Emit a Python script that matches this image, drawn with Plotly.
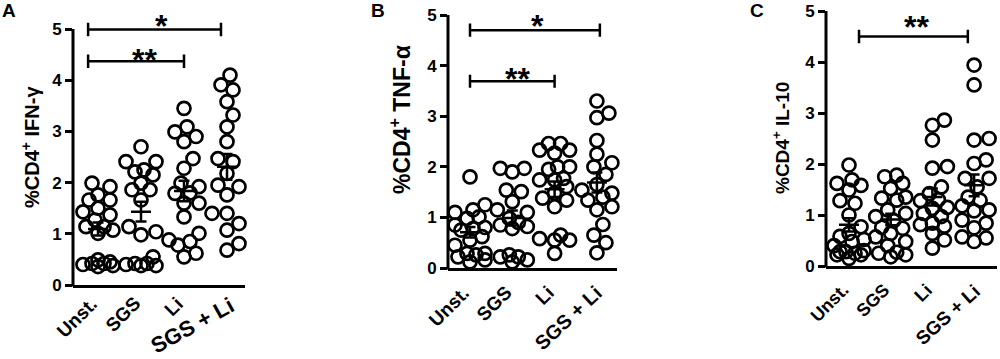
import math
import plotly.graph_objects as go

# ---------------- data ----------------
categories = ["Unst.", "SGS", "Li", "SGS + Li"]
y_ticks = [0, 1, 2, 3, 4, 5]

A_unst = [1.99, 1.92, 1.76, 1.66, 1.66, 1.50, 1.43, 1.37, 1.27, 1.14, 1.14, 1.07, 1.01, 0.49, 0.45, 0.42, 0.42, 0.40, 0.38, 0.36]
A_sgs = [2.70, 2.41, 2.41, 2.25, 2.21, 2.15, 1.99, 1.86, 1.86, 1.66, 1.14, 1.04, 0.98, 0.55, 0.42, 0.42, 0.40, 0.38, 0.38]
A_li = [3.45, 3.09, 2.99, 2.90, 2.80, 2.47, 2.28, 1.99, 1.92, 1.80, 1.79, 1.60, 1.60, 1.33, 1.01, 0.88, 0.85, 0.78, 0.62, 0.55]
A_sgsli = [4.10, 3.91, 3.81, 3.58, 3.32, 3.09, 2.80, 2.47, 2.41, 2.18, 1.95, 1.92, 1.76, 1.40, 1.40, 1.20, 1.07, 0.81, 0.68]

B_unst = [1.80, 1.25, 1.15, 1.10, 1.01, 0.98, 0.85, 0.80, 0.78, 0.75, 0.62, 0.55, 0.45, 0.29, 0.29, 0.26, 0.22, 0.16, 0.12]
B_sgs = [1.97, 1.97, 1.90, 1.54, 1.51, 1.31, 1.15, 1.10, 0.98, 0.90, 0.85, 0.82, 0.78, 0.26, 0.22, 0.22, 0.16, 0.12]
B_li = [2.46, 2.46, 2.33, 2.33, 2.27, 2.00, 2.00, 1.95, 1.77, 1.74, 1.74, 1.61, 1.48, 1.38, 1.34, 1.21, 0.65, 0.58, 0.55, 0.55, 0.29]
B_sgsli = [3.30, 3.06, 2.97, 2.52, 2.25, 2.08, 2.00, 1.85, 1.65, 1.54, 1.48, 1.40, 1.34, 1.21, 1.15, 0.86, 0.65, 0.50, 0.30]

C_unst = [1.98, 1.69, 1.62, 1.58, 1.49, 1.28, 1.23, 1.00, 0.77, 0.64, 0.58, 0.52, 0.48, 0.40, 0.30, 0.28, 0.28, 0.25, 0.22, 0.22, 0.15]
C_sgs = [1.78, 1.75, 1.62, 1.52, 1.35, 1.33, 1.29, 1.10, 1.03, 0.97, 0.89, 0.76, 0.74, 0.64, 0.57, 0.48, 0.40, 0.27, 0.25, 0.22, 0.18]
C_li = [2.86, 2.76, 2.47, 1.95, 1.92, 1.55, 1.42, 1.30, 1.28, 1.15, 1.13, 1.03, 0.97, 0.84, 0.81, 0.78, 0.64, 0.51, 0.35]
C_sgsli = [3.94, 3.55, 2.50, 2.47, 2.08, 2.01, 1.72, 1.72, 1.55, 1.35, 1.29, 1.18, 1.10, 1.08, 0.90, 0.84, 0.75, 0.57, 0.55, 0.48]

A_groups = [A_unst, A_sgs, A_li, A_sgsli]
B_groups = [B_unst, B_sgs, B_li, B_sgsli]
C_groups = [C_unst, C_sgs, C_li, C_sgsli]

A_title = "%CD4<sup>+</sup> IFN-γ"
B_title = "%CD4<sup>+</sup> TNF-α"
C_title = "%CD4<sup>+</sup> IL-10"

# significance brackets: (x start, x end, y level, label, label x, label y)
A_sig = [(-0.23, 2.0, 4.37, "**", 1.07, 4.53), (-0.23, 2.86, 4.99, "*", 1.47, 5.2)]
B_sig = [(0.0, 2.0, 3.69, "**", 1.13, 3.88), (0.0, 3.07, 4.70, "*", 1.6, 4.93)]
C_sig = [(0.24, 2.85, 4.50, "**", 1.63, 4.82)]

# ---------------- layout geometry (pixels) ----------------
W, H = 1000, 359
FONT = "Liberation Sans, Arial, sans-serif"

# lab_style per category: (angle, font size, x shift px)
panels = [
    dict(letter="A", groups=A_groups, title=A_title, sig=A_sig,
         x_left=73, x_right=245, x0px=98, xstep=43, y0px=285, ypu=51.2, ytop=5.5,
         title_x=30, title_y=147, title_size=20, letter_x=9, letter_y=11,
         lab_style=[(-45, 19, 6), (-45, 19, 6), (-45, 19, 6), (-29, 22, 14)], lab_dy=5),
    dict(letter="B", groups=B_groups, title=B_title, sig=B_sig,
         x_left=448, x_right=617, x0px=470, xstep=42.3, y0px=268, ypu=50.6, ytop=5.05,
         title_x=400, title_y=120, title_size=23, letter_x=378, letter_y=11,
         lab_style=[(-45, 19, 6), (-45, 19, 6), (-45, 19, 6), (-43, 20, 12)], lab_dy=11),
    dict(letter="C", groups=C_groups, title=C_title, sig=C_sig,
         x_left=826, x_right=997, x0px=849, xstep=41.7, y0px=266, ypu=51.0, ytop=5.05,
         title_x=781, title_y=138, title_size=19, letter_x=757, letter_y=11,
         lab_style=[(-45, 18, 6), (-45, 18, 6), (-45, 18, 6), (-42, 19, 13)], lab_dy=11),
]


def swarm(vals, sx, sy, dmin=12.5, step=3.0, maxoff=17.0):
    """Beeswarm offsets (in data units) so circles spread horizontally."""
    order = sorted(range(len(vals)), key=lambda i: vals[i])
    placed = []
    offs = [0.0] * len(vals)
    cands = [0.0]
    k = 1
    while k * step <= maxoff:
        cands += [k * step, -k * step]
        k += 1
    for i in order:
        y = vals[i] * sy
        best, bestd = 0.0, -1.0
        for c in cands:
            d = min((math.hypot(c - px, y - py) for px, py in placed), default=1e9)
            if d >= dmin:
                best = c
                break
            if d > bestd:
                bestd, best = d, c
        offs[i] = best / sx
        placed.append((best, y))
    return offs


fig = go.Figure()
shapes = []
annotations = []
layout_axes = {}

for p_i, p in enumerate(panels):
    n = "" if p_i == 0 else str(p_i + 1)
    xa, ya = "x" + n, "y" + n
    sx, sy = p["xstep"], p["ypu"]
    xr = [-(p["x0px"] - p["x_left"]) / sx, (p["x_right"] - p["x0px"]) / sx]
    ydom0 = 1 - p["y0px"] / H
    ydom1 = 1 - (p["y0px"] - p["ytop"] * sy) / H
    xdom = [p["x_left"] / W, p["x_right"] / W]

    layout_axes["xaxis" + n] = dict(
        domain=xdom, range=xr, anchor=ya, showgrid=False, zeroline=False,
        showline=True, linecolor="black", linewidth=3, automargin=False,
        tickmode="array", tickvals=list(range(len(categories))), ticktext=categories,
        ticks="", showticklabels=False,
    )
    layout_axes["yaxis" + n] = dict(
        domain=[ydom0, ydom1], range=[0, p["ytop"]], anchor=xa, showgrid=False, zeroline=False,
        showline=False, tickmode="array", tickvals=y_ticks, ticktext=[str(t) for t in y_ticks],
        ticks="outside", ticklen=7, tickwidth=2.5, tickcolor="black", automargin=False,
        tickfont=dict(family=FONT, size=17, color="black", weight="bold"),
    )
    # y axis line from 0 to 5 (paper coords)
    ytop5 = ydom0 + (ydom1 - ydom0) * (5 / p["ytop"])
    shapes.append(dict(type="line", xref="paper", yref="paper", x0=xdom[0], x1=xdom[0],
                       y0=ydom0 - 1.5 / H, y1=ytop5, line=dict(color="black", width=3)))

    for g_i, vals in enumerate(p["groups"]):
        offs = swarm(vals, sx, sy)
        fig.add_trace(go.Scatter(
            x=[g_i + o for o in offs], y=vals, mode="markers", xaxis=xa, yaxis=ya,
            marker=dict(symbol="circle-open", size=13, color="black", line=dict(width=2.7, color="black")),
            cliponaxis=False, showlegend=False, hoverinfo="y",
        ))
        m = sum(vals) / len(vals)
        sd = math.sqrt(sum((v - m) ** 2 for v in vals) / (len(vals) - 1))
        sem = sd / math.sqrt(len(vals))
        hw = 10 / sx
        cw = 5.5 / sx
        fig.add_trace(go.Scatter(
            x=[g_i - hw, g_i + hw, None, g_i, g_i, None, g_i - cw, g_i + cw, None, g_i - cw, g_i + cw],
            y=[m, m, None, m - sem, m + sem, None, m - sem, m - sem, None, m + sem, m + sem],
            mode="lines", line=dict(color="black", width=2.5), xaxis=xa, yaxis=ya,
            showlegend=False, hoverinfo="skip",
        ))

    # category labels (rotated), anchored by their top-right corner under each category
    for g_i, cat in enumerate(categories):
        ang, fs, dx = p["lab_style"][g_i]
        annotations.append(dict(text=cat, x=g_i, y=ydom0, xref=xa, yref="paper", showarrow=False,
                                textangle=ang, xanchor="right", yanchor="top",
                                xshift=dx, yshift=-p["lab_dy"],
                                font=dict(family=FONT, size=fs, color="black", weight="bold")))

    # significance brackets
    for (x0, x1, yl, lab, lx, ly) in p["sig"]:
        cap = 0.13
        for seg in [(x0, yl, x1, yl), (x0, yl - cap, x0, yl + cap), (x1, yl - cap, x1, yl + cap)]:
            shapes.append(dict(type="line", xref=xa, yref=ya, x0=seg[0], y0=seg[1], x1=seg[2], y1=seg[3],
                               line=dict(color="black", width=2.5)))
        annotations.append(dict(text=lab, x=lx, y=ly, xref=xa, yref=ya, showarrow=False,
                                xanchor="center", yanchor="middle", yshift=-7,
                                font=dict(family=FONT, size=32, color="black", weight="bold")))

    # y axis title
    annotations.append(dict(text=p["title"], x=p["title_x"] / W, y=1 - p["title_y"] / H,
                            xref="paper", yref="paper", showarrow=False, textangle=-90,
                            xanchor="center", yanchor="middle",
                            font=dict(family=FONT, size=p["title_size"], color="black", weight="bold")))
    # panel letter
    annotations.append(dict(text=p["letter"], x=p["letter_x"] / W, y=1 - p["letter_y"] / H,
                            xref="paper", yref="paper", showarrow=False,
                            xanchor="center", yanchor="middle",
                            font=dict(family=FONT, size=19, color="black", weight="bold")))

fig.update_layout(
    width=W, height=H, autosize=False,
    margin=dict(l=0, r=0, t=0, b=0, autoexpand=False),
    paper_bgcolor="white", plot_bgcolor="white",
    shapes=shapes, annotations=annotations,
    **layout_axes,
)

fig.write_html("out.html", config={"displayModeBar": False},
               post_script="document.body.style.margin='0';")
